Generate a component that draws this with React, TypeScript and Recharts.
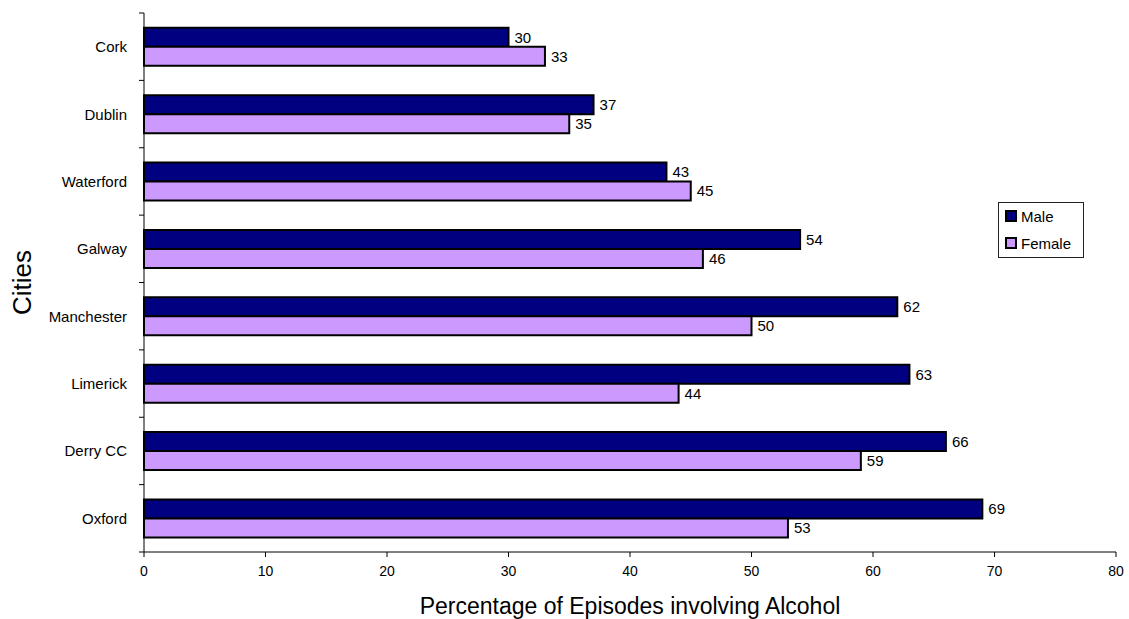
import React from 'react';
import { BarChart, Bar, XAxis, YAxis, Legend, LabelList } from 'recharts';

const cities = ['Cork', 'Dublin', 'Waterford', 'Galway', 'Manchester', 'Limerick', 'Derry CC', 'Oxford'];
const maleValues = [30, 37, 43, 54, 62, 63, 66, 69];
const femaleValues = [33, 35, 45, 46, 50, 44, 59, 53];
const xTicks = [0, 10, 20, 30, 40, 50, 60, 70, 80];

const seriesNames = { male: 'Male', female: 'Female' };
const colors = { male: '#000080', female: '#CC99FF' };

const data = cities.map((city, i) => ({ city, male: maleValues[i], female: femaleValues[i] }));

const W = 1129;
const H = 619;
const MARGIN = { top: 13, right: 13, bottom: 0, left: 0 };
const X_AXIS_H = 67;
const Y_AXIS_W = 144;
const FONT = '"Liberation Sans", Arial, sans-serif';
const BAND = (H - MARGIN.top - MARGIN.bottom - X_AXIS_H) / cities.length;

const CityTick = (props: any) => {
  const { payload, index } = props;
  const cy = payload.coordinate;
  const ax = MARGIN.left + Y_AXIS_W;
  return (
    <g>
      <line x1={ax - 5} x2={ax} y1={cy - BAND / 2} y2={cy - BAND / 2} stroke="#000" strokeWidth={1} />
      {index === cities.length - 1 && (
        <line x1={ax - 5} x2={ax} y1={cy + BAND / 2} y2={cy + BAND / 2} stroke="#000" strokeWidth={1} />
      )}
      <text x={ax - 17} y={cy} textAnchor="end" dominantBaseline="central" fontSize={15} fill="#000" fontFamily={FONT}>
        {payload.value}
      </text>
    </g>
  );
};

const LegendBox = () => (
  <div
    style={{
      position: 'absolute',
      left: 0,
      top: 0,
      border: '1px solid #222',
      width: 84,
      height: 54,
      boxSizing: 'content-box',
      background: '#fff',
      fontFamily: FONT,
      fontSize: 15,
      color: '#000',
    }}
  >
    {(['male', 'female'] as const).map((k, i) => (
      <div key={k} style={{ position: 'absolute', left: 6, top: 4 + i * 27, display: 'flex', alignItems: 'center', height: 18, whiteSpace: 'nowrap' }}>
        <span
          style={{
            display: 'inline-block',
            width: 8,
            height: 8,
            border: '2px solid #000',
            background: colors[k],
            marginRight: 4,
          }}
        />
        <span>{seriesNames[k]}</span>
      </div>
    ))}
  </div>
);

export default function App() {
  return (
    <div style={{ position: 'absolute', left: 0, top: 0, width: W, height: H, background: '#fff' }}>
      <BarChart
        width={W}
        height={H}
        data={data}
        layout="vertical"
        margin={MARGIN}
        barCategoryGap="22%"
        barGap={0}
        style={{ fontFamily: FONT }}
      >
        <XAxis
          type="number"
          domain={[0, 80]}
          ticks={xTicks}
          interval={0}
          height={X_AXIS_H}
          tickSize={5}
          tickMargin={9}
          stroke="#000"
          tick={{ fill: '#000', fontSize: 14, fontFamily: FONT }}
          label={{ value: 'Percentage of Episodes involving Alcohol', position: 'insideBottom', offset: 5, fill: '#000', fontSize: 23, fontFamily: FONT }}
        />
        <YAxis
          type="category"
          dataKey="city"
          width={Y_AXIS_W}
          stroke="#000"
          tickLine={false}
          tick={<CityTick />}
          interval={0}
          label={{ value: 'Cities', angle: -90, position: 'insideLeft', offset: 22, fill: '#000', fontSize: 26, fontFamily: FONT, style: { textAnchor: 'middle' } }}
        />
        <Legend
          layout="horizontal"
          verticalAlign="middle"
          align="center"
          content={<LegendBox />}
          wrapperStyle={{ position: 'absolute', left: 998, top: 202, width: 0, height: 0, overflow: 'visible' }}
        />
        <Bar dataKey="male" name={seriesNames.male} fill={colors.male} stroke="#000" strokeWidth={2} isAnimationActive={false}>
          <LabelList dataKey="male" position="right" offset={6} fill="#000" fontSize={15} fontFamily={FONT} />
        </Bar>
        <Bar dataKey="female" name={seriesNames.female} fill={colors.female} stroke="#000" strokeWidth={2} isAnimationActive={false}>
          <LabelList dataKey="female" position="right" offset={6} fill="#000" fontSize={15} fontFamily={FONT} />
        </Bar>
      </BarChart>
    </div>
  );
}
